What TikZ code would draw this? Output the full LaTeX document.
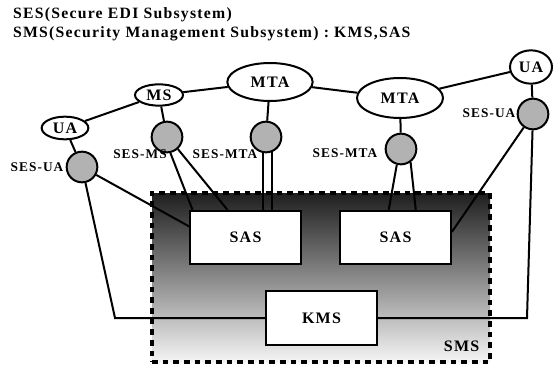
\documentclass[tikz,border=0pt]{standalone}
\usepackage{fontspec}
\setmainfont{Liberation Serif}
\newfontfamily\labelfont[LetterSpace=8]{Liberation Serif}
\usetikzlibrary{shapes.geometric,calc}

\begin{document}
\begin{tikzpicture}[x=0.75pt, y=-0.75pt, line width=1.5pt,
    agent/.style={draw, ellipse, fill=white, inner sep=0pt,
      font=\labelfont\bfseries\fontsize{12}{14}\selectfont},
    sesnode/.style={draw, circle, fill=black!30, minimum size=23pt, inner sep=0pt},
    seslabel/.style={inner sep=0pt, font=\labelfont\bfseries\fontsize{10}{12}\selectfont},
    sysbox/.style={draw, fill=white, minimum width=83pt, minimum height=40pt,
      font=\labelfont\bfseries\fontsize{12}{14}\selectfont},
    smsbox/.style={draw, dash pattern=on 4.2pt off 3.8pt, line width=2.4pt,
      top color=black!88, bottom color=black!4,
      minimum width=253.5pt, minimum height=126.75pt},
    heading/.style={anchor=base west, inner sep=0pt,
      font=\labelfont\bfseries\fontsize{11.8}{14}\selectfont}]
  \useasboundingbox (0,0) rectangle (553,367);

  % headings
  \node[heading] (head1) at (12,19) {SES(Secure EDI Subsystem)};
  \node[heading] (head2) at (12,38) {SMS(Security Management Subsystem)\ :\ KMS,SAS};

  % security management subsystem
  \node[smsbox] (sms) at (321,277.5) {};
  \node[sysbox] (sasleft) at (245.5,237.5) {SAS};
  \node[sysbox] (sasright) at (395.5,237.5) {SAS};
  \node[sysbox] (kms) at (321.5,318) {KMS};
  \node[agent, draw=none, fill=none, anchor=south east] (smslabel) at (480,352) {SMS};

  % messaging agents
  \node[agent, minimum width=35pt, minimum height=17pt] (ualeft) at (65,128) {UA};
  \node[agent, minimum width=36pt, minimum height=16pt] (ms) at (159,95) {MS};
  \node[agent, minimum width=64pt, minimum height=28.5pt] (mtaleft) at (270,82) {MTA};
  \node[agent, minimum width=64.5pt, minimum height=30pt] (mtaright) at (400,98) {MTA};
  \node[agent, minimum width=31.5pt, minimum height=25pt] (uaright) at (531,67) {UA};

  % secure EDI subsystems
  \node[sesnode] (sesualeft) at (82,167) {};
  \node[sesnode] (sesms) at (167,137) {};
  \node[sesnode] (sesmtaleft) at (266,137) {};
  \node[sesnode] (sesmtaright) at (401,149) {};
  \node[sesnode] (sesuaright) at (533,114) {};

  \node[seslabel] (lblualeft) at (37,167) {SES-UA};
  \node[seslabel] (lblms) at (140,154) {SES-MS};
  \node[seslabel] (lblmtaleft) at (225,154) {SES-MTA};
  \node[seslabel] (lblmtaright) at (345,153) {SES-MTA};
  \node[seslabel] (lbluaright) at (489,113) {SES-UA};

  \coordinate (bendleft) at (115,318);
  \coordinate (bendright) at (527,318);

  % message transfer links
  \draw (ualeft) -- (ms);
  \draw (ms) -- (mtaleft);
  \draw (mtaleft) -- (mtaright);
  \draw (mtaright) -- (uaright);

  % agents to their SES
  \draw (ualeft) -- (sesualeft);
  \draw (ms) -- (sesms);
  \draw (mtaleft) -- (sesmtaleft);
  \draw (mtaright) -- (sesmtaright);
  \draw (uaright) -- (sesuaright);

  % SES to SAS
  \draw (sesualeft) -- ($(sasleft.north west)!0.3!(sasleft.south west)$);
  \draw (sesms.-78) -- ($(sasleft.north west)!0.03!(sasleft.north east)$);
  \draw (sesms.-48) -- ($(sasleft.north west)!0.34!(sasleft.north east)$);
  \draw (sesmtaleft.-100) -- (sesmtaleft.-100 |- sasleft.north);
  \draw (sesmtaleft.-70) -- (sesmtaleft.-70 |- sasleft.north);
  \draw (sesmtaright.-105) -- ($(sasright.north west)!0.44!(sasright.north east)$);
  \draw (sesmtaright.-54) -- ($(sasright.north west)!0.68!(sasright.north east)$);
  \draw (sesuaright) -- ($(sasright.north east)!0.4!(sasright.south east)$);

  % UA SES to KMS
  \draw (sesualeft) -- (bendleft) -- (kms);
  \draw (sesuaright) -- (bendright) -- (kms);
\end{tikzpicture}
\end{document}
